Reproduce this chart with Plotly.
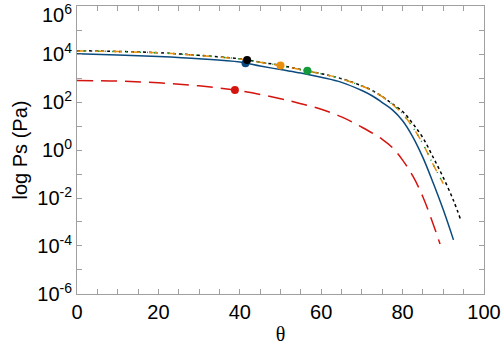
import plotly.graph_objects as go

# theta (deg) and saturation pressure Ps (Pa)
theta_blue = [0, 10, 20, 30, 40, 45, 50, 55, 60, 65, 70, 72.5, 75, 77.5, 80, 82.5, 85, 87.5, 90, 92.5]
ps_blue = [1.02e4, 9.1e3, 7.8e3, 6.3e3, 4.6e3, 3.16e3, 2.24e3, 1.62e3, 1.07e3, 6.6e2,
           3.0e2, 1.82e2, 9.5e1, 4.7e1, 1.66e1, 3.55e0, 4.8e-1, 4.3e-2, 3.2e-3, 1.8e-4]

theta_orange = [0, 10, 20, 30, 40, 45, 50, 55, 60, 65, 70, 72.5, 75, 77.5, 80, 82.5, 85, 87.5, 90]
ps_orange = [1.35e4, 1.26e4, 1.12e4, 8.7e3, 6.2e3, 4.5e3, 3.3e3, 2.2e3, 1.5e3, 9.3e2,
             4.6e2, 3.0e2, 1.66e2, 7.9e1, 3.2e1, 8.9e0, 1.78e0, 2.5e-1, 4.0e-2]

theta_black = [0, 10, 20, 30, 40, 45, 50, 55, 60, 65, 70, 72.5, 75, 77.5, 80, 82.5, 85, 87.5,
               90, 92.5, 94.3]
ps_black = [1.38e4, 1.28e4, 1.13e4, 8.8e3, 6.3e3, 4.6e3, 3.35e3, 2.25e3, 1.52e3, 9.4e2,
            4.7e2, 3.05e2, 1.7e2, 8.3e1, 4.0e1, 1.26e1, 3.2e0, 5.0e-1, 7.1e-2, 7.9e-3, 1.2e-3]

theta_red = [0, 10, 20, 30, 40, 50, 55, 60, 65, 70, 75, 77.5, 80, 82.5, 85, 87.5, 89.2]
ps_red = [7.9e2, 7.4e2, 6.3e2, 4.7e2, 2.95e2, 1.38e2, 8.5e1, 5.0e1, 2.4e1, 8.9e0,
          2.8e0, 1.26e0, 3.8e-1, 8.3e-2, 1.1e-2, 8.3e-4, 1.2e-4]

# highlighted points
dot_theta = [41.4, 41.8, 50.0, 56.6, 38.8]
dot_ps = [4.1e3, 5.6e3, 3.3e3, 2.0e3, 3.2e2]
dot_colors = ["#0b4a7e", "#000000", "#e8900c", "#159a3c", "#d4140f"]

BLUE, ORANGE, GREEN, RED = "#0b4a7e", "#e8900c", "#159a3c", "#d4140f"

fig = go.Figure()
fig.add_trace(go.Scatter(x=theta_blue, y=ps_blue, mode="lines", line_shape="spline",
                         line=dict(color=BLUE, width=1.5)))
fig.add_trace(go.Scatter(x=theta_black, y=ps_black, mode="lines", line_shape="spline",
                         line=dict(color="black", width=1.5, dash="dot")))
fig.add_trace(go.Scatter(x=theta_orange, y=ps_orange, mode="lines", line_shape="spline",
                         line=dict(color=ORANGE, width=1.5, dash="dash")))
fig.add_trace(go.Scatter(x=theta_orange, y=ps_orange, mode="lines", line_shape="spline",
                         line=dict(color=GREEN, width=1.5, dash="1px,6px")))
fig.add_trace(go.Scatter(x=theta_red, y=ps_red, mode="lines", line_shape="spline",
                         line=dict(color=RED, width=1.5, dash="16px,8px")))
fig.add_trace(go.Scatter(x=dot_theta, y=dot_ps, mode="markers",
                         marker=dict(color=dot_colors, size=8)))

xticks = list(range(0, 101, 5))
xlabels = [str(v) if v % 20 == 0 else "" for v in xticks]
yticks = [10.0 ** k for k in range(-6, 7)]
# the top label sits a bit lower in the reference, so it is drawn as an annotation
ylabels = [f"10<sup>{k}</sup>" if k % 2 == 0 and k < 6 else "" for k in range(-6, 7)]

axis_common = dict(showline=True, linecolor="#a0a0a0", linewidth=1, mirror="ticks",
                   ticks="inside", ticklen=5, tickcolor="#a0a0a0", showgrid=False,
                   zeroline=False, automargin=False, ticklabeloverflow="allow",
                   tickfont=dict(size=20, color="black"))

fig.update_xaxes(range=[-0.001, 100.001], tickvals=xticks, ticktext=xlabels,
                 title=dict(text="θ", font=dict(size=20, family="Liberation Serif"), standoff=4),
                 **axis_common)
fig.update_yaxes(type="log", range=[-6.0005, 6.0005], tickvals=yticks, ticktext=ylabels,
                 title=dict(text="log Ps (Pa)", font=dict(size=20), standoff=4), **axis_common)

fig.add_annotation(text="10<sup>6</sup>", xref="paper", yref="paper", x=0, y=1,
                   xanchor="right", yanchor="top", xshift=-3, yshift=7,
                   showarrow=False, font=dict(size=20, color="black"))

fig.update_layout(width=501, height=347, showlegend=False,
                  margin=dict(l=77, r=17, t=6, b=53),
                  paper_bgcolor="white", plot_bgcolor="white",
                  font=dict(family="Liberation Sans, Arial, sans-serif", color="black"))

# the page body has an 8px margin by default; drop it so the chart sits at 0,0
fig.write_html("out.html", config={"displayModeBar": False},
               post_script="document.body.style.margin='0px';")
